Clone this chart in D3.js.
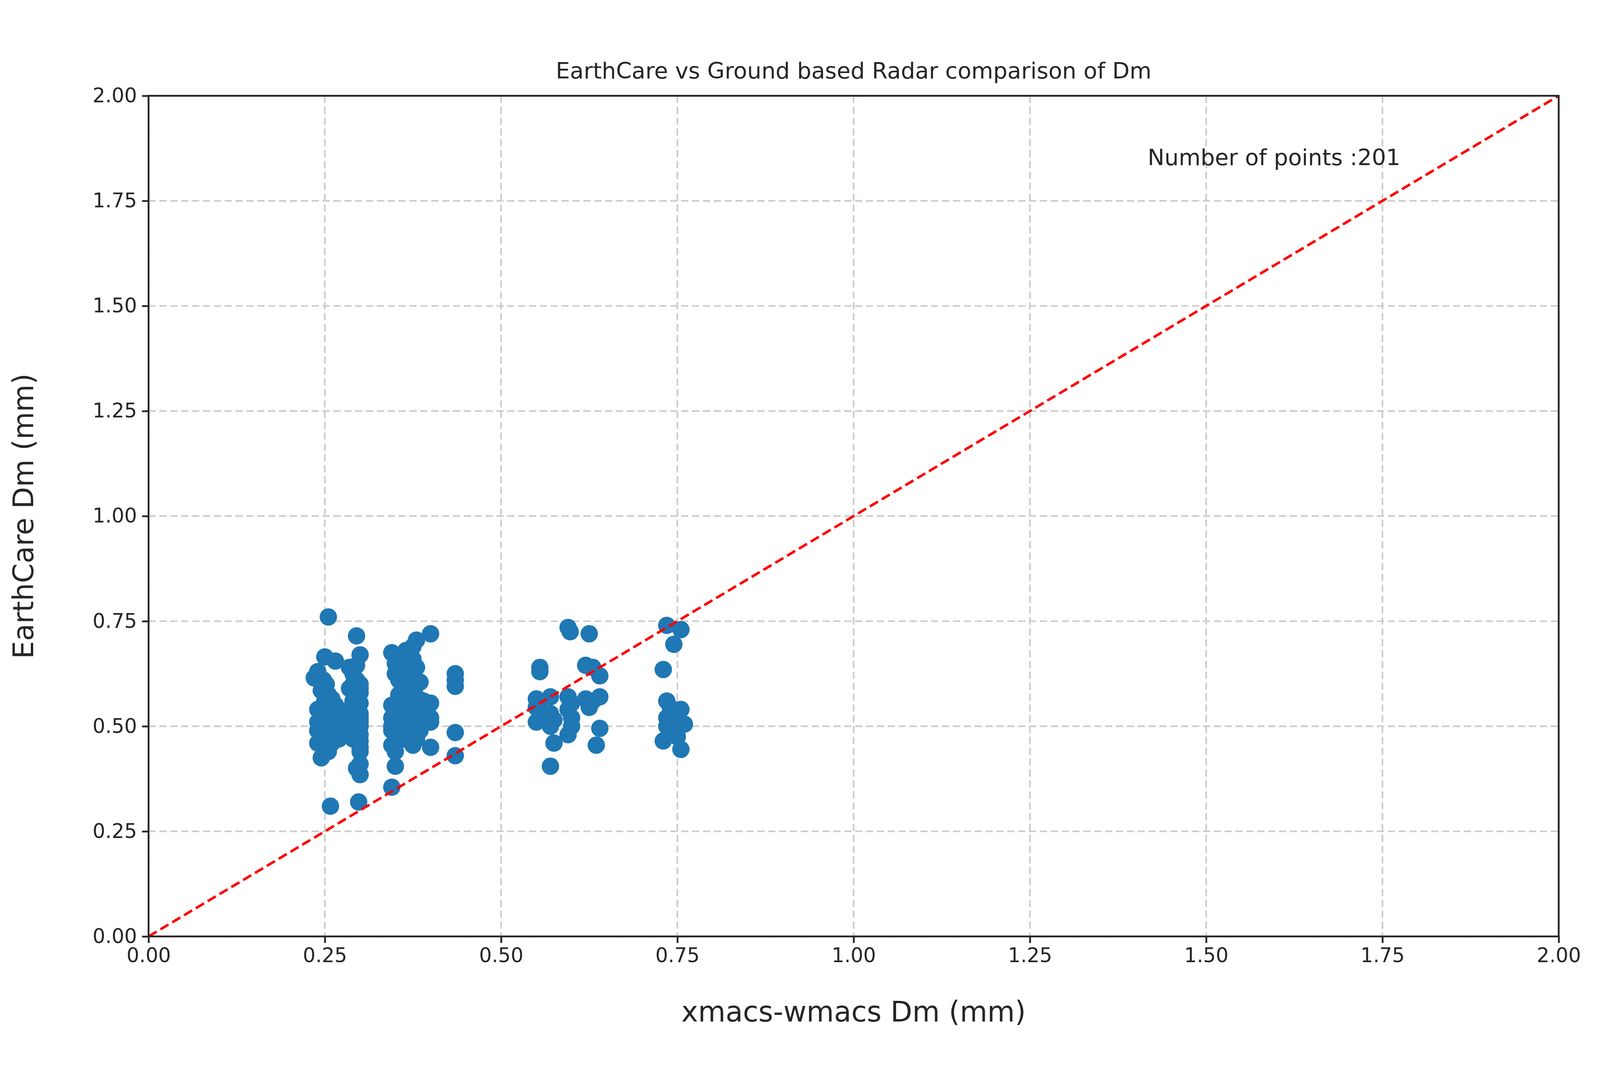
<!DOCTYPE html>
<html><head><meta charset="utf-8">
<script src="https://cdn.jsdelivr.net/npm/d3@7"></script>
<style>html,body{margin:0;padding:0;overflow:hidden;background:#fff}svg{display:block}</style></head>
<body><svg id="c" viewBox="0 0 4416 2776" preserveAspectRatio="xMidYMid meet" style="width:100vw;height:100vh"></svg>
<script>
const xVals=[0.255,0.235,0.24,0.25,0.265,0.245,0.255,0.26,0.24,0.25,0.26,0.265,0.24,0.25,0.255,0.245,0.26,0.27,0.24,0.25,0.255,0.245,0.255,0.258,0.265,0.27,0.265,0.26,0.248,0.252,
0.295,0.30,0.285,0.295,0.29,0.3,0.285,0.29,0.3,0.29,0.3,0.285,0.295,0.3,0.29,0.3,0.285,0.3,0.3,0.3,0.3,0.3,0.295,0.3,0.298,0.3,0.29,0.295,
0.345,0.355,0.365,0.375,0.38,0.4,0.35,0.36,0.35,0.375,0.38,0.355,0.37,0.385,0.36,0.375,0.345,0.355,0.365,0.38,0.395,0.4,0.345,0.35,0.36,0.37,0.38,0.39,0.4,0.4,0.345,0.355,0.365,0.375,0.385,0.35,0.36,0.37,0.38,0.345,0.35,0.375,0.4,0.35,0.345,0.36,0.37,0.39,0.355,0.365,
0.435,0.435,0.435,0.435,0.435,
0.555,0.555,0.55,0.57,0.55,0.555,0.55,0.57,0.575,0.57,0.575,0.57,0.595,0.598,0.625,0.595,0.6,0.595,0.6,0.595,0.62,0.63,0.64,0.62,0.625,0.64,0.64,0.635,0.63,
0.735,0.755,0.745,0.73,0.735,0.74,0.755,0.735,0.75,0.74,0.76,0.745,0.73,0.75,0.755,0.74,0.75,
0.245,0.25,0.26,0.255,0.24,0.265,0.25,0.245,0.255,0.26,0.29,0.295,0.3,0.285,0.29,0.3,0.295,0.35,0.36,0.37,0.38,0.355,0.365,0.375,0.385,0.345,0.36,0.37,0.38,0.39,0.365,0.375,0.555,0.57,0.6,0.625,0.74,0.745,0.75,0.735,0.74,0.745];
const yVals=[0.76,0.615,0.63,0.665,0.655,0.585,0.575,0.565,0.54,0.53,0.52,0.51,0.49,0.5,0.49,0.475,0.475,0.47,0.46,0.455,0.45,0.425,0.44,0.31,0.55,0.53,0.49,0.46,0.61,0.6,
0.715,0.67,0.64,0.645,0.625,0.6,0.59,0.6,0.58,0.56,0.555,0.54,0.535,0.52,0.51,0.5,0.5,0.48,0.465,0.45,0.44,0.41,0.4,0.385,0.32,0.53,0.52,0.49,
0.675,0.665,0.68,0.69,0.705,0.72,0.65,0.64,0.625,0.655,0.64,0.61,0.6,0.605,0.59,0.58,0.55,0.56,0.555,0.57,0.54,0.555,0.52,0.51,0.53,0.52,0.515,0.53,0.52,0.51,0.5,0.49,0.5,0.495,0.49,0.48,0.47,0.465,0.47,0.455,0.44,0.455,0.45,0.405,0.355,0.545,0.535,0.56,0.575,0.62,
0.625,0.61,0.595,0.485,0.43,
0.64,0.63,0.565,0.57,0.545,0.52,0.51,0.53,0.515,0.5,0.46,0.405,0.735,0.725,0.72,0.57,0.555,0.54,0.52,0.48,0.645,0.64,0.62,0.565,0.545,0.57,0.495,0.455,0.56,
0.74,0.73,0.695,0.635,0.56,0.545,0.54,0.52,0.525,0.505,0.505,0.49,0.465,0.475,0.445,0.5,0.51,
0.52,0.545,0.5,0.48,0.51,0.53,0.56,0.5,0.52,0.49,0.545,0.57,0.51,0.52,0.47,0.59,0.61,0.52,0.5,0.51,0.5,0.545,0.53,0.54,0.52,0.49,0.56,0.58,0.6,0.51,0.63,0.66,0.54,0.52,0.5,0.56,0.52,0.48,0.53,0.5,0.485,0.52];
const ticks=[0,0.25,0.5,0.75,1,1.25,1.5,1.75,2];
const svg=d3.select('#c');
const m={l:410,r:4302,t:156,b:2477};
const x=d3.scaleLinear().domain([0,2]).range([m.l,m.r]);
const y=d3.scaleLinear().domain([0,2]).range([m.b,m.t]);
const font='DejaVu Sans';
const grid=svg.append('g');
ticks.forEach(t=>{
 grid.append('line').attr('x1',x(t)).attr('x2',x(t)).attr('y1',m.t).attr('y2',m.b).attr('stroke','#cccccc').attr('stroke-width',4.5).attr('stroke-dasharray','20,10');
 grid.append('line').attr('y1',y(t)).attr('y2',y(t)).attr('x1',m.l).attr('x2',m.r).attr('stroke','#cccccc').attr('stroke-width',4.5).attr('stroke-dasharray','20,10');
});
const pts=xVals.map((v,i)=>[v,yVals[i]]);
svg.append('g').selectAll('circle').data(pts).join('circle').attr('cx',d=>x(d[0])).attr('cy',d=>y(d[1])).attr('r',24).attr('fill','#1f77b4');
svg.append('line').attr('x1',x(0)).attr('y1',y(0)).attr('x2',x(2)).attr('y2',y(2)).attr('stroke','#ff0000').attr('stroke-width',7).attr('stroke-dasharray','26,12');
const xa=svg.append('g').attr('transform',`translate(0,${m.b})`).call(d3.axisBottom(x).tickValues(ticks).tickFormat(d3.format('.2f')).tickSize(18).tickPadding(14));
const ya=svg.append('g').attr('transform',`translate(${m.l},0)`).call(d3.axisLeft(y).tickValues(ticks).tickFormat(d3.format('.2f')).tickSize(18).tickPadding(14));
[xa,ya].forEach(a=>{a.select('.domain').remove();a.selectAll('line').attr('stroke','#262626').attr('stroke-width',5);a.selectAll('text').attr('font-family',font).attr('font-size',55).attr('fill','#262626');});
svg.append('rect').attr('x',m.l).attr('y',m.t).attr('width',m.r-m.l).attr('height',m.b-m.t).attr('fill','none').attr('stroke','#262626').attr('stroke-width',5);
svg.append('text').attr('x',(m.l+m.r)/2).attr('y',108).attr('text-anchor','middle').attr('font-family',font).attr('font-size',62).attr('fill','#262626').text('EarthCare vs Ground based Radar comparison of Dm');
svg.append('text').attr('x',(m.l+m.r)/2).attr('y',2712).attr('text-anchor','middle').attr('font-family',font).attr('font-size',78).attr('fill','#262626').text('xmacs-wmacs Dm (mm)');
svg.append('text').attr('transform',`translate(92,${(m.t+m.b)/2}) rotate(-90)`).attr('text-anchor','middle').attr('font-family',font).attr('font-size',78).attr('fill','#262626').text('EarthCare Dm (mm)');
svg.append('text').attr('x',x(1.417)).attr('y',y(1.835)).attr('font-family',font).attr('font-size',62).attr('fill','#262626').text('Number of points :201');
</script></body></html>
